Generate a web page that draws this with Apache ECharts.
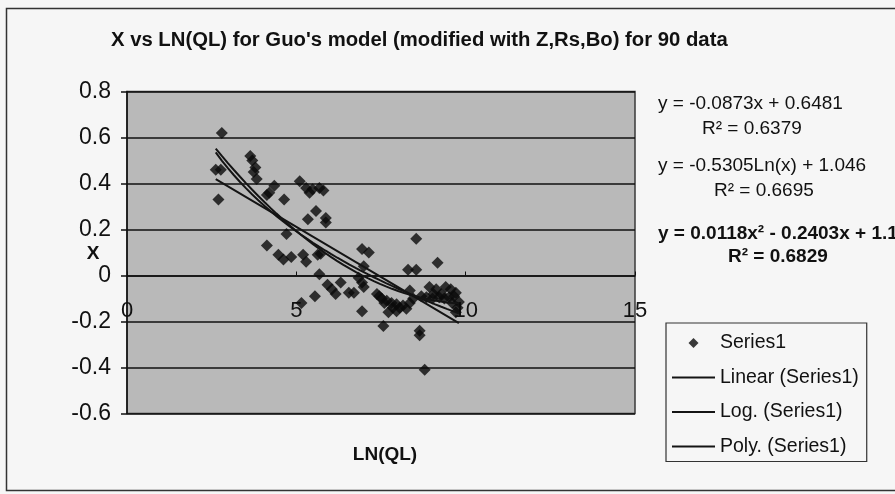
<!DOCTYPE html>
<html>
<head>
<meta charset="utf-8">
<script src="https://cdn.jsdelivr.net/npm/echarts@6/dist/echarts.min.js"></script>
<style>
  html, body { margin: 0; padding: 0; background: #f6f6f6; }
  #chart { width: 895px; height: 494px; }
</style>
</head>
<body>
<div id="chart"></div>
<script>
// Observations: LN(QL) on x, X on y
const lnQL = [
  2.80, 2.62, 2.77, 2.70,
  3.64, 3.79, 3.74, 3.83, 4.35, 4.13, 4.64, 4.71, 4.13, 4.47, 4.85, 4.62,
  5.10, 5.29, 5.48, 5.68, 5.39, 5.58, 5.34, 5.87, 5.87, 5.20, 5.29, 5.63, 5.72,
  5.68, 5.92, 6.31, 6.16, 5.55, 5.15, 6.55, 6.70,
  6.94, 7.14, 6.99, 6.84, 6.94, 6.99, 6.94,
  7.38, 7.52, 7.67, 7.81, 7.96, 8.15, 8.35, 7.72, 7.96, 8.25, 7.57, 8.30, 8.54, 8.35, 8.54,
  8.69, 8.64, 8.64, 8.79, 9.17, 8.93, 9.13, 9.41, 9.56, 9.71,
  8.84, 9.02, 9.22, 9.37, 9.51, 9.66, 9.80, 9.76, 9.71,
  7.45, 7.60, 7.85, 8.05, 8.45, 9.28, 9.60, 3.70, 4.20, 5.80, 6.05, 9.05
];
const xVal = [
  0.62, 0.46, 0.46, 0.33,
  0.52, 0.47, 0.45, 0.42, 0.39, 0.35, 0.33, 0.18, 0.13, 0.09, 0.08, 0.07,
  0.41, 0.38, 0.375, 0.38, 0.36, 0.28, 0.245, 0.25, 0.23, 0.09, 0.06, 0.09, 0.095,
  0.005, -0.04, -0.03, -0.08, -0.09, -0.12, -0.075, -0.075,
  0.115, 0.10, 0.04, -0.01, -0.03, -0.05, -0.155,
  -0.08, -0.10, -0.11, -0.12, -0.125, -0.13, -0.12, -0.16, -0.155, -0.145, -0.22, 0.025, 0.025, -0.065, 0.16,
  -0.09, -0.24, -0.26, -0.41, 0.055, -0.05, -0.06, -0.05, -0.06, -0.075,
  -0.095, -0.10, -0.095, -0.10, -0.095, -0.09, -0.115, -0.14, -0.16,
  -0.09, -0.12, -0.14, -0.14, -0.10, -0.08, -0.12, 0.50, 0.36, 0.37, -0.06, -0.08
];

// Trendline coefficients as printed in the equation labels
const linearCoef = [-0.0873, 0.6481];        // a*x + b
const logCoef = [-0.5305, 1.046];            // a*ln(x) + b
const polyCoef = [0.0118, -0.2403, 1.1];     // a*x^2 + b*x + c

const yTicks = ['0.8', '0.6', '0.4', '0.2', '0', '-0.2', '-0.4', '-0.6'];
const xTicks = ['0', '5', '10', '15'];

const equationLines = [
  'y = -0.0873x + 0.6481', 'R\u00B2 = 0.6379',
  'y = -0.5305Ln(x) + 1.046', 'R\u00B2 = 0.6695',
  'y = 0.0118x\u00B2 - 0.2403x + 1.1', 'R\u00B2 = 0.6829'
];

const FONT = '"Liberation Sans", Arial, sans-serif';

const points = lnQL.map((v, i) => [v, xVal[i]]);
const xMin = Math.min(...lnQL);
const xMax = Math.max(...lnQL);

function curve(fn, steps) {
  const out = [];
  for (let i = 0; i <= steps; i++) {
    const x = xMin + (xMax - xMin) * i / steps;
    out.push([x, fn(x)]);
  }
  return out;
}
const linearLine = curve(x => linearCoef[0] * x + linearCoef[1], 1);
const logLine = curve(x => logCoef[0] * Math.log(x) + logCoef[1], 40);
const polyLine = curve(x => polyCoef[0] * x * x + polyCoef[1] * x + polyCoef[2], 40);

const chart = echarts.init(document.getElementById('chart'), null, { renderer: 'canvas' });

const lineSeries = (name, data) => ({
  name, type: 'line', data, symbol: 'none', smooth: false, z: 5,
  lineStyle: { color: '#141414', width: 2 },
  itemStyle: { color: '#141414' }
});

const eqText = (txt, left, top, bold) => ({
  type: 'text', left, top,
  style: { text: txt, font: (bold ? 'bold ' : '') + '19px ' + FONT, fill: '#111' }
});

const DIAMOND_ICON = 'path://M5,0L10,5L5,10L0,5Z';
const LINE_ICON = 'path://M0,0L43,0L43,2L0,2Z';

chart.setOption({
  backgroundColor: '#f6f6f6',
  animation: false,
  textStyle: { fontFamily: FONT },
  title: {
    text: 'X vs LN(QL) for Guo\'s model (modified with Z,Rs,Bo) for 90 data',
    left: 106, top: 25,
    textStyle: { fontFamily: FONT, fontWeight: 'bold', fontSize: 20.3, color: '#111' }
  },
  grid: {
    left: 127, top: 91.5, right: 260, bottom: 80.5,
    outerBoundsMode: 'none', containLabel: false,
    show: true, backgroundColor: '#b9b9b9', borderColor: '#3a3a3a', borderWidth: 1.5
  },
  xAxis: {
    type: 'value', min: 0, max: 15, interval: 5,
    position: 'bottom', offset: 0,
    axisLine: { onZero: false, lineStyle: { color: '#111', width: 1.5 } },
    axisTick: { show: true, inside: true, length: 4, lineStyle: { color: '#111' } },
    splitLine: { show: false },
    axisLabel: {
      margin: 24, fontSize: 22, color: '#111', fontFamily: FONT,
      formatter: v => xTicks[Math.round(v / 5)]
    }
  },
  yAxis: {
    type: 'value', min: -0.6, max: 0.8, interval: 0.2,
    axisLine: { show: true, onZero: false, lineStyle: { color: '#111', width: 1.5 } },
    axisTick: { show: true, length: 6, lineStyle: { color: '#111', width: 1.5 } },
    splitLine: { show: true, lineStyle: { color: '#111', width: 1.5 } },
    axisLabel: {
      margin: 16, fontSize: 23, color: '#111', fontFamily: FONT,
      formatter: v => yTicks[Math.round((0.8 - v) / 0.2)]
    }
  },
  legend: {
    orient: 'vertical', left: 666, top: 323,
    padding: [10, 8, 5, 6],
    itemWidth: 43, itemHeight: 10, itemGap: 14.5,
    symbolKeepAspect: true,
    borderColor: '#333', borderWidth: 1.2, backgroundColor: '#f6f6f6',
    textStyle: { fontFamily: FONT, fontSize: 19.5, color: '#111', lineHeight: 20 },
    data: [
      { name: 'Series1', icon: DIAMOND_ICON },
      { name: 'Linear (Series1)', icon: LINE_ICON },
      { name: 'Log. (Series1)', icon: LINE_ICON },
      { name: 'Poly. (Series1)', icon: LINE_ICON }
    ]
  },
  graphic: [
    eqText(equationLines[0], 658, 94, false),
    eqText(equationLines[1], 702, 119, false),
    eqText(equationLines[2], 658, 156, false),
    eqText(equationLines[3], 714, 181, false),
    eqText(equationLines[4], 658, 224, true),
    eqText(equationLines[5], 728, 247, true),
    { type: 'text', x: 385, y: 455,
      style: { text: 'LN(QL)', font: 'bold 19px ' + FONT, fill: '#111', align: 'center', verticalAlign: 'middle' } },
    { type: 'text', x: 93, y: 254,
      style: { text: 'X', font: 'bold 19px ' + FONT, fill: '#111', align: 'center', verticalAlign: 'middle' } },
    { type: 'rect', left: 4, top: 6, z: -10, silent: true,
      shape: { width: 900, height: 482 },
      style: { fill: 'none', stroke: '#333', lineWidth: 1.5 } }
  ],
  series: [
    {
      name: 'Series1', type: 'scatter', data: points, z: 3,
      symbol: 'diamond', symbolSize: 12,
      itemStyle: { color: '#0a0a0a' }
    },
    lineSeries('Linear (Series1)', linearLine),
    lineSeries('Log. (Series1)', logLine),
    lineSeries('Poly. (Series1)', polyLine)
  ]
});

// The category axis crosses the value axis at X = 0: lift it from the grid bottom to that level
const yZero = chart.convertToPixel({ yAxisIndex: 0 }, 0);
const yFloor = chart.convertToPixel({ yAxisIndex: 0 }, -0.6);
chart.setOption({ xAxis: { offset: yZero - yFloor } });
</script>
</body>
</html>
